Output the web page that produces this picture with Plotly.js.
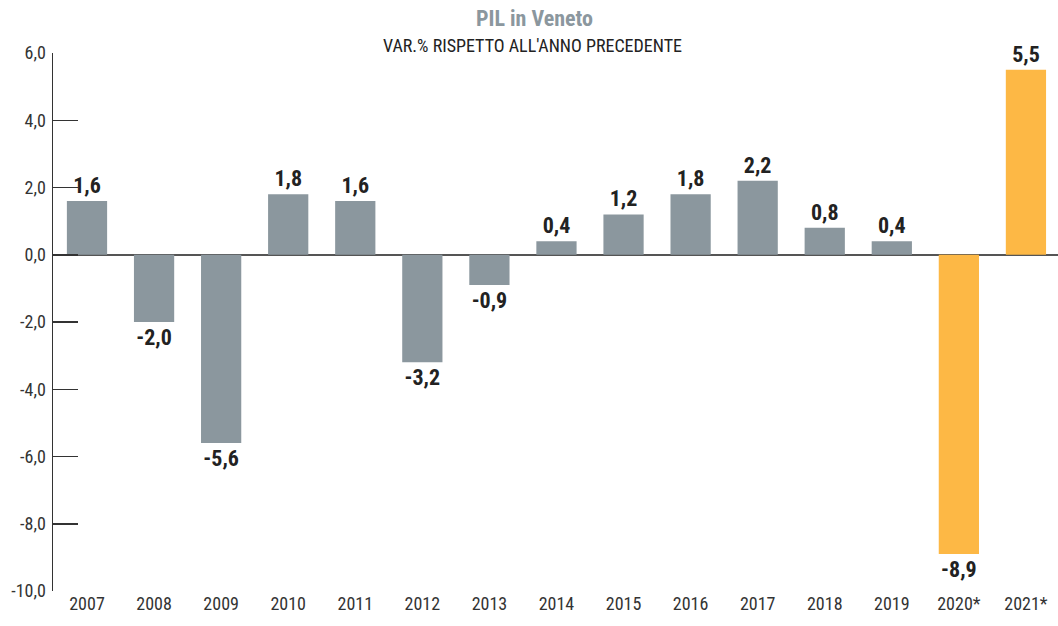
<!DOCTYPE html>
<html><head><meta charset="utf-8">
<script src="https://cdn.plot.ly/plotly-3.0.1.min.js"></script>
<style>html,body{margin:0;padding:0;background:#fff}#chart{width:1058px;height:626px}</style>
</head><body><div id="chart"></div>
<script>
const years = ['2007','2008','2009','2010','2011','2012','2013','2014','2015','2016','2017','2018','2019','2020*','2021*'];
const values = [1.6,-2.0,-5.6,1.8,1.6,-3.2,-0.9,0.4,1.2,1.8,2.2,0.8,0.4,-8.9,5.5];
const estimated = [false,false,false,false,false,false,false,false,false,false,false,false,false,true,true];
const tickVals = [6,4,2,0,-2,-4,-6,-8,-10];
const titleText = 'PIL in Veneto';
const subtitleText = "VAR.% RISPETTO ALL'ANNO PRECEDENTE";

const FONT = '"Liberation Sans Narrow", "Roboto Condensed", "Arial Narrow", "Liberation Sans", sans-serif';
const fmt = v => v.toFixed(1).replace('.', ',');

const trace = {
  type: 'bar', x: years, y: values,
  marker: {color: estimated.map(e => e ? '#FDB845' : '#8B979E')},
  width: 0.6,
  text: values.map(fmt), textposition: 'outside', cliponaxis: false,
  textfont: {family: FONT, size: 22, color: '#222', weight: 'bold'},
  hoverinfo: 'skip'
};

const layout = {
  width: 1058, height: 626,
  margin: {l: 53, r: 0, t: 53, b: 35},
  paper_bgcolor: '#fff', plot_bgcolor: '#fff',
  showlegend: false,
  font: {family: FONT, color: '#333'},
  xaxis: {type: 'category', range: [-0.507, 14.478], showline: false, ticks: '',
    showgrid: false, tickfont: {family: FONT, size: 18, color: '#333'}, fixedrange: true},
  yaxis: {range: [-10, 6], tickvals: tickVals, ticktext: tickVals.map(fmt),
    showline: true, linecolor: '#333', linewidth: 1.5,
    ticks: 'inside', ticklen: 25, tickwidth: 1.5, tickcolor: '#333',
    showgrid: false, zeroline: true, zerolinecolor: '#555', zerolinewidth: 1.5,
    tickfont: {family: FONT, size: 18, color: '#333'}, ticklabelstandoff: 2, fixedrange: true},
  annotations: [
    {xref: 'paper', yref: 'paper', x: 0.479, y: 1.065, text: '<b>' + titleText + '</b>', showarrow: false,
     font: {family: FONT, size: 22, color: '#8B979E'}, xanchor: 'center', yanchor: 'middle'},
    {xref: 'paper', yref: 'paper', x: 0.477, y: 1.014, text: subtitleText, showarrow: false,
     font: {family: FONT, size: 18, color: '#222'}, xanchor: 'center', yanchor: 'middle'}
  ]
};
Plotly.newPlot('chart', [trace], layout, {displayModeBar: false, staticPlot: true});
</script></body></html>
